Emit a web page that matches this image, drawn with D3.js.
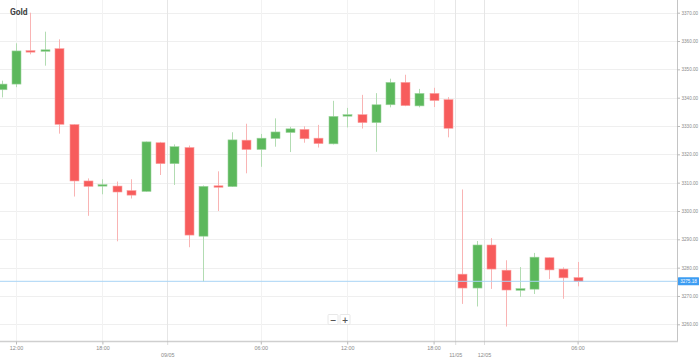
<!DOCTYPE html>
<html><head><meta charset="utf-8">
<script src="https://cdn.jsdelivr.net/npm/d3@7"></script>
<style>html,body{margin:0;padding:0;background:#fff;overflow:hidden}</style>
</head><body>
<svg id="c" width="699" height="359"></svg>
<script>
// Hourly candles (index 0 = 08/05 11:00)
const openV  = [3342.8,3344.8,3356.6,3356.4,3357.3,3330.5,3310.6,3309.0,3308.8,3307.2,3306.9,3324.1,3316.7,3322.4,3291.1,3308.9,3308.6,3325.0,3321.7,3325.6,3327.7,3328.8,3325.7,3323.7,3333.5,3334.0,3331.2,3337.5,3345.4,3337.1,3341.5,3339.3,3277.7,3272.8,3288.0,3279.1,3272.0,3272.4,3283.5,3279.5,3276.5];
const highV  = [3346.0,3359.2,3370.0,3363.3,3360.6,3330.6,3311.5,3311.2,3310.4,3311.2,3324.5,3324.4,3323.5,3323.1,3309.0,3314.0,3327.8,3330.8,3327.2,3332.7,3329.7,3329.9,3330.4,3338.9,3336.4,3341.0,3341.6,3346.7,3348.1,3343.1,3343.5,3340.2,3307.6,3289.4,3290.4,3282.6,3280.2,3285.2,3283.6,3280.1,3282.0];
const lowV   = [3340.1,3343.7,3355.3,3351.3,3327.3,3305.1,3298.3,3305.9,3289.3,3304.4,3306.8,3312.7,3309.2,3287.2,3275.1,3300.0,3308.5,3313.3,3315.6,3322.7,3320.8,3324.1,3322.4,3323.5,3329.5,3329.1,3320.9,3336.6,3337.0,3336.6,3336.7,3326.0,3267.2,3266.3,3272.5,3259.2,3269.7,3270.7,3276.0,3269.0,3273.4];
const closeV = [3344.8,3356.5,3356.2,3356.9,3330.6,3310.6,3308.7,3309.3,3306.7,3305.6,3324.4,3316.7,3322.7,3291.5,3308.7,3308.6,3325.1,3321.7,3325.7,3327.9,3329.0,3325.5,3323.8,3333.4,3334.0,3331.2,3337.5,3345.4,3337.2,3341.5,3339.0,3329.2,3272.8,3288.0,3279.5,3272.1,3272.6,3283.7,3279.2,3276.4,3275.18];
// x-axis ticks (candle index positions) and labels
const timeTickPos = [1, 7, 18, 24, 30, 40];
const timeTickLbl = ["12:00","18:00","06:00","12:00","18:00","06:00"];
const dateTickPos = [11.5, 31.5, 33.5];
const dateTickLbl = ["09/05","11/05","12/05"];
const yTicks = [3260,3270,3280,3290,3300,3310,3320,3330,3340,3350,3360,3370];
const lastPrice = 3275.18;
const title = "Gold";

const data = openV.map((o,i)=>({i, o, h:highV[i], l:lowV[i], c:closeV[i]}));
const svg = d3.select("#c");
const W = 699, H = 359, plotR = 677, plotB = 341;

const x = d3.scaleLinear().domain([0, 40]).range([1.6, 577.6]);
const y = d3.scaleLinear().domain([3260, 3370]).range([324.3, 12.7]);
const bw = 9;

const GREEN = "#5cb85c", RED = "#f75c5c";
const GWICK = "#b2dcb2", RWICK = "#f9b4b4";

const plot = svg.append("g");
svg.append("defs").append("clipPath").attr("id","clip")
  .append("rect").attr("x",0).attr("y",0).attr("width",plotR).attr("height",plotB);

// horizontal grid
plot.selectAll(".hg").data(yTicks).join("line")
  .attr("x1",0).attr("x2",plotR).attr("y1",d=>Math.round(y(d))+0.5).attr("y2",d=>Math.round(y(d))+0.5)
  .attr("stroke","#efefef").attr("stroke-width",1);
// vertical grid
plot.selectAll(".vg").data(timeTickPos).join("line")
  .attr("x1",d=>Math.round(x(d))+0.5).attr("x2",d=>Math.round(x(d))+0.5).attr("y1",0).attr("y2",plotB)
  .attr("stroke","#f2f2f2");
plot.selectAll(".vd").data(dateTickPos).join("line")
  .attr("x1",d=>Math.round(x(d))+0.5).attr("x2",d=>Math.round(x(d))+0.5).attr("y1",0).attr("y2",plotB)
  .attr("stroke","#e6e6e6");

// candles
const cg = plot.append("g").attr("clip-path","url(#clip)");
const up = d => d.c >= d.o;
cg.selectAll(".wick").data(data).join("line")
  .attr("x1",d=>Math.round(x(d.i))+0.5).attr("x2",d=>Math.round(x(d.i))+0.5)
  .attr("y1",d=>y(d.h)).attr("y2",d=>y(d.l))
  .attr("stroke",d=>up(d)?GWICK:RWICK).attr("stroke-width",1);
cg.selectAll(".body").data(data).join("rect")
  .attr("x",d=>Math.round(x(d.i))+0.5-bw/2)
  .attr("y",d=>y(Math.max(d.o,d.c)))
  .attr("width",bw)
  .attr("height",d=>Math.max(1.5, Math.abs(y(d.o)-y(d.c))))
  .attr("fill",d=>up(d)?GREEN:RED)
  .attr("stroke",d=>up(d)?"#9fd49f":"#fba0a0").attr("stroke-width",0.6);

// price line
plot.append("line").attr("x1",0).attr("x2",plotR).attr("y1",y(lastPrice)).attr("y2",y(lastPrice))
  .attr("stroke","#a8d4f5").attr("stroke-width",1);

// axes lines
svg.append("line").attr("x1",plotR+0.5).attr("x2",plotR+0.5).attr("y1",0).attr("y2",plotB+1)
  .attr("stroke","#c4c4c4").attr("stroke-width",1);
svg.append("line").attr("x1",0).attr("x2",plotR+1).attr("y1",plotB+0.5).attr("y2",plotB+0.5)
  .attr("stroke","#cfcfcf").attr("stroke-width",1.5);

// right y axis
const yAxis = d3.axisRight(y).tickValues(yTicks).tickFormat(d3.format(".2f")).tickSize(3).tickPadding(1.5);
const ya = svg.append("g").attr("transform",`translate(${plotR},0)`).call(yAxis);
ya.select(".domain").remove();
ya.selectAll("line").attr("stroke","#bbb");
ya.selectAll("text").attr("fill","#8a8a8a").attr("font-size","4.6px").attr("font-family","Liberation Sans, Arial, sans-serif");

// price label
const py = y(lastPrice);
svg.append("rect").attr("x",plotR+1).attr("y",py-4).attr("width",21).attr("height",8).attr("fill","#3d9df2").attr("rx",0.5);
svg.append("text").attr("x",plotR+11.5).attr("y",py+1.6).attr("text-anchor","middle")
  .attr("fill","#fff").attr("font-size","4.6px").attr("font-family","Liberation Sans, Arial, sans-serif")
  .text(d3.format(".2f")(lastPrice));

// bottom x axis
const xAxis = d3.axisBottom(x).tickValues(timeTickPos).tickFormat((d,i)=>timeTickLbl[i]).tickSize(3).tickPadding(2);
const xa = svg.append("g").attr("transform",`translate(0,${plotB+0.5})`).call(xAxis);
xa.select(".domain").remove();
xa.selectAll("line").attr("stroke","#bbb");
xa.selectAll("text").attr("fill","#8a8a8a").attr("font-size","5.4px").attr("font-family","Liberation Sans, Arial, sans-serif");
const xAxis2 = d3.axisBottom(x).tickValues(dateTickPos).tickFormat((d,i)=>dateTickLbl[i]).tickSize(4).tickPadding(8);
const xb = svg.append("g").attr("transform",`translate(0,${plotB+0.5})`).call(xAxis2);
xb.select(".domain").remove();
xb.selectAll("line").attr("stroke","#bbb").attr("stroke-dasharray","1,1");
xb.selectAll("text").attr("fill","#8a8a8a").attr("font-size","5.4px").attr("font-family","Liberation Sans, Arial, sans-serif");

// title
svg.append("text").attr("x",10).attr("y",14.5).attr("font-family","Roboto, sans-serif").attr("font-weight","bold")
  .attr("font-size","8.5px").attr("fill","#444").text(title);

// zoom buttons
const btns = [{t:"−", x:328},{t:"+", x:340}];
const bg = svg.append("g");
bg.selectAll("rect").data(btns).join("rect").attr("x",d=>d.x).attr("y",314.5).attr("width",10).attr("height",10)
  .attr("fill","#fff").attr("stroke","#e2e2e2").attr("stroke-width",0.8).attr("rx",1);
bg.selectAll("text").data(btns).join("text").attr("x",d=>d.x+5).attr("y",322.5).attr("text-anchor","middle")
  .attr("font-family","DejaVu Sans, sans-serif").attr("font-weight","bold").attr("font-size","8px").attr("fill","#555")
  .text(d=>d.t);
</script>
</body></html>
